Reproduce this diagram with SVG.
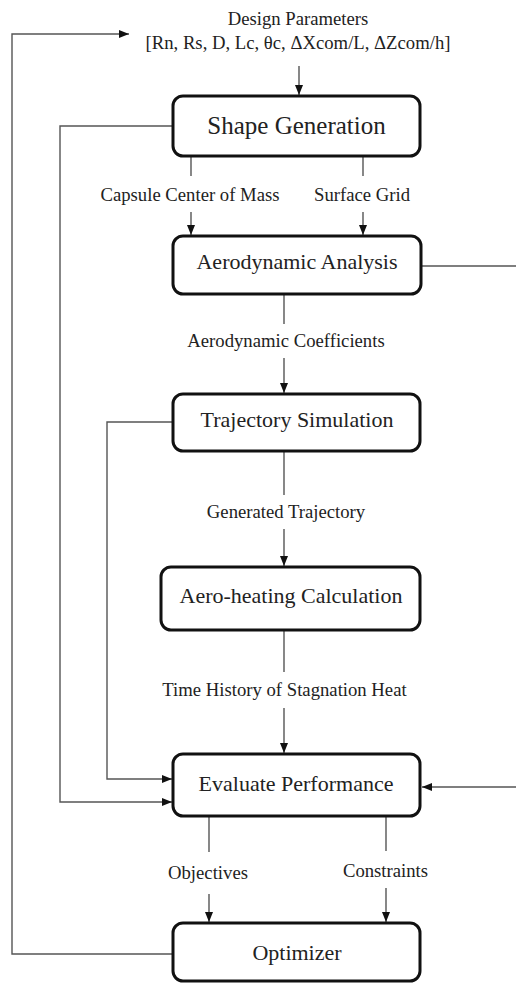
<svg xmlns="http://www.w3.org/2000/svg" width="516" height="983" viewBox="0 0 516 983">
<style>
.box{fill:#fff;stroke:#111;stroke-width:3}
.t{font-family:"Liberation Serif","Times New Roman",serif;fill:#222;text-anchor:middle}
.title{font-size:22px}
.big{font-size:25px}
.lbl{font-size:18.7px}
.c{fill:none;stroke:#555;stroke-width:1.4}
</style>
<defs>
<marker id="ah" viewBox="0 0 10 8" refX="10" refY="4" markerWidth="10" markerHeight="8" markerUnits="userSpaceOnUse" orient="auto">
<path d="M0,0 L10,4 L0,8 z" fill="#111"/>
</marker>
</defs>
<rect width="516" height="983" fill="#fff"/>
<g id="connectors">
<path class="c" d="M299,66 V95" marker-end="url(#ah)"/>
<path class="c" d="M191,156 V176"/>
<path class="c" d="M191,212 V235" marker-end="url(#ah)"/>
<path class="c" d="M363,156 V176"/>
<path class="c" d="M363,212 V235" marker-end="url(#ah)"/>
<path class="c" d="M284,294 V324"/>
<path class="c" d="M284,358 V393" marker-end="url(#ah)"/>
<path class="c" d="M284,451 V495"/>
<path class="c" d="M284,529 V566" marker-end="url(#ah)"/>
<path class="c" d="M284,630 V672"/>
<path class="c" d="M284,708 V753" marker-end="url(#ah)"/>
<path class="c" d="M209,816 V852"/>
<path class="c" d="M209,894 V922" marker-end="url(#ah)"/>
<path class="c" d="M386,816 V851"/>
<path class="c" d="M386,888 V922" marker-end="url(#ah)"/>
<path class="c" d="M173,126 H60 V802 H172" marker-end="url(#ah)"/>
<path class="c" d="M173,422 H107 V779 H172" marker-end="url(#ah)"/>
<path class="c" d="M421,266 H522 V787 H422" marker-end="url(#ah)"/>
<path class="c" d="M173,954 H12 V34 H129" marker-end="url(#ah)"/>
</g>
<g id="design-parameters">
<text class="t lbl" x="298" y="25">Design Parameters</text>
<text class="t lbl" x="298" y="49">[Rn, Rs, D, Lc, θc, ΔXcom/L, ΔZcom/h]</text>
</g>
<g id="shape-generation">
<rect class="box" x="173" y="96" width="247" height="60" rx="10"/>
<text class="t big" x="296.5" y="134">Shape Generation</text>
</g>
<g id="label-com"><text class="t lbl" x="190" y="201">Capsule Center of Mass</text></g>
<g id="label-grid"><text class="t lbl" x="362" y="201">Surface Grid</text></g>
<g id="aerodynamic-analysis">
<rect class="box" x="173" y="236" width="248" height="58" rx="10"/>
<text class="t title" x="297" y="269">Aerodynamic Analysis</text>
</g>
<g id="label-coeff"><text class="t lbl" x="286" y="347">Aerodynamic Coefficients</text></g>
<g id="trajectory-simulation">
<rect class="box" x="173" y="394" width="247" height="57" rx="10"/>
<text class="t title" x="297" y="427">Trajectory Simulation</text>
</g>
<g id="label-traj"><text class="t lbl" x="286" y="518">Generated Trajectory</text></g>
<g id="aero-heating">
<rect class="box" x="161" y="567" width="259" height="63" rx="10"/>
<text class="t title" x="291" y="603">Aero-heating Calculation</text>
</g>
<g id="label-heat"><text class="t lbl" x="284.5" y="696">Time History of Stagnation Heat</text></g>
<g id="evaluate-performance">
<rect class="box" x="173" y="754" width="247" height="62" rx="10"/>
<text class="t title" x="296" y="791">Evaluate Performance</text>
</g>
<g id="label-obj"><text class="t lbl" x="208" y="879">Objectives</text></g>
<g id="label-con"><text class="t lbl" x="385.5" y="877">Constraints</text></g>
<g id="optimizer">
<rect class="box" x="173" y="923" width="247" height="58" rx="10"/>
<text class="t title" x="297" y="960">Optimizer</text>
</g>
</svg>
